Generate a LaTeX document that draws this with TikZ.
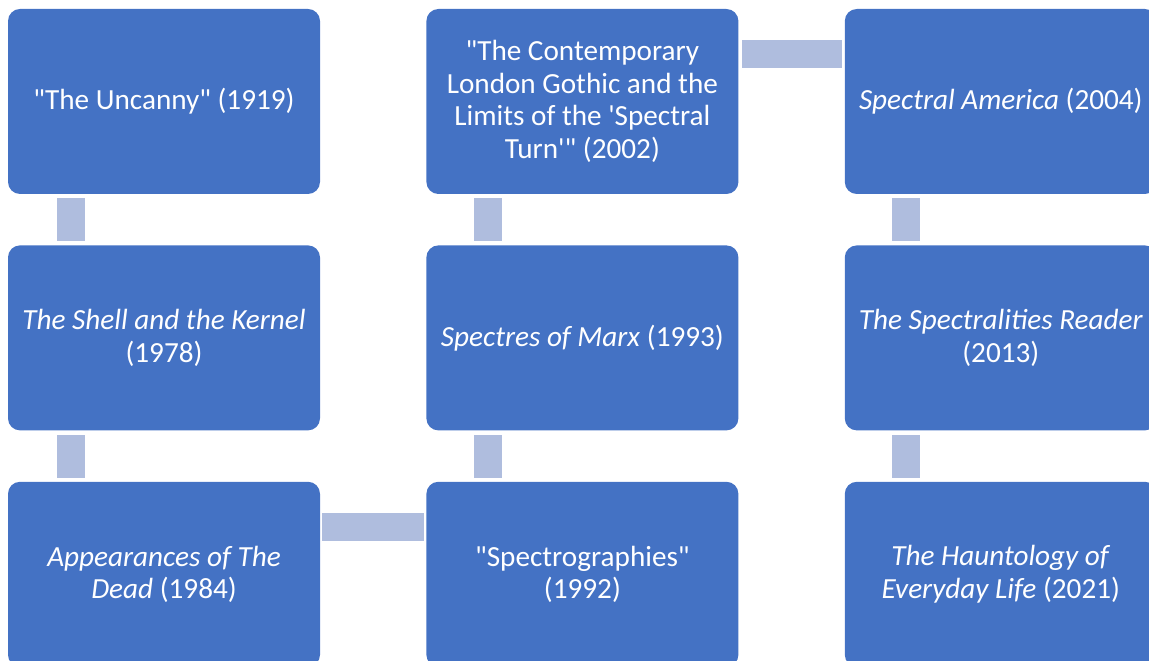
\documentclass[tikz,border=0pt]{standalone}
\usepackage{fontspec}
\setmainfont{Carlito}[Ligatures=TeXOff]
\usetikzlibrary{positioning,calc}
\definecolor{boxblue}{HTML}{4472C4}
\definecolor{barblue}{HTML}{AFBDDE}

\begin{document}
\begin{tikzpicture}[x=1pt,y=1pt,node distance=51pt and 106pt,
    work/.style={rectangle,rounded corners=12pt,fill=boxblue,text=white,
      minimum width=312pt,minimum height=185pt,inner sep=0pt,align=center,
      font=\fontsize{29.2}{32.5}\selectfont},
    bar/.style={fill=barblue}]
    \useasboundingbox (0,0) rectangle (1149,661);
    \node[work] (uncanny) at (164,559.5) {"The Uncanny" (1919)};
    \node[work] (shell) [below=of uncanny] {\textit{The Shell and the Kernel}\\(1978)};
    \node[work] (dead) [below=of shell] {\textit{Appearances of The}\\\textit{Dead} (1984)};
    \node[work] (spectro) [right=of dead] {"Spectrographies"\\(1992)};
    \node[work] (marx) [above=of spectro] {\textit{Spectres of Marx} (1993)};
    \node[work] (london) [above=of marx] {"The Contemporary\\London Gothic and the\\Limits of the 'Spectral\\Turn'" (2002)};
    \node[work] (america) [right=of london] {\textit{Spectral America} (2004)};
    \node[work] (reader) [below=of america] {\textit{The Spectralities Reader}\\(2013)};
    \node[work] (everyday) [below=of reader] {\textit{The Hauntology of}\\\textit{Everyday Life} (2021)};

    % connecting bars
    \path[bar] ($(uncanny.south west)+(49,-4)$) rectangle ($(shell.north west)+(77,4)$);
    \path[bar] ($(shell.south west)+(49,-4)$) rectangle ($(dead.north west)+(77,4)$);
    \path[bar] ($(dead.north east)+(2,-31)$) rectangle ($(spectro.north west)+(-2,-59)$);
    \path[bar] ($(spectro.north west)+(48,4)$) rectangle ($(marx.south west)+(76,-4)$);
    \path[bar] ($(marx.north west)+(48,4)$) rectangle ($(london.south west)+(76,-4)$);
    \path[bar] ($(london.north east)+(3,-31)$) rectangle ($(america.north west)+(-3,-59)$);
    \path[bar] ($(america.south west)+(47,-4)$) rectangle ($(reader.north west)+(75,4)$);
    \path[bar] ($(reader.south west)+(47,-4)$) rectangle ($(everyday.north west)+(75,4)$);
\end{tikzpicture}
\end{document}
